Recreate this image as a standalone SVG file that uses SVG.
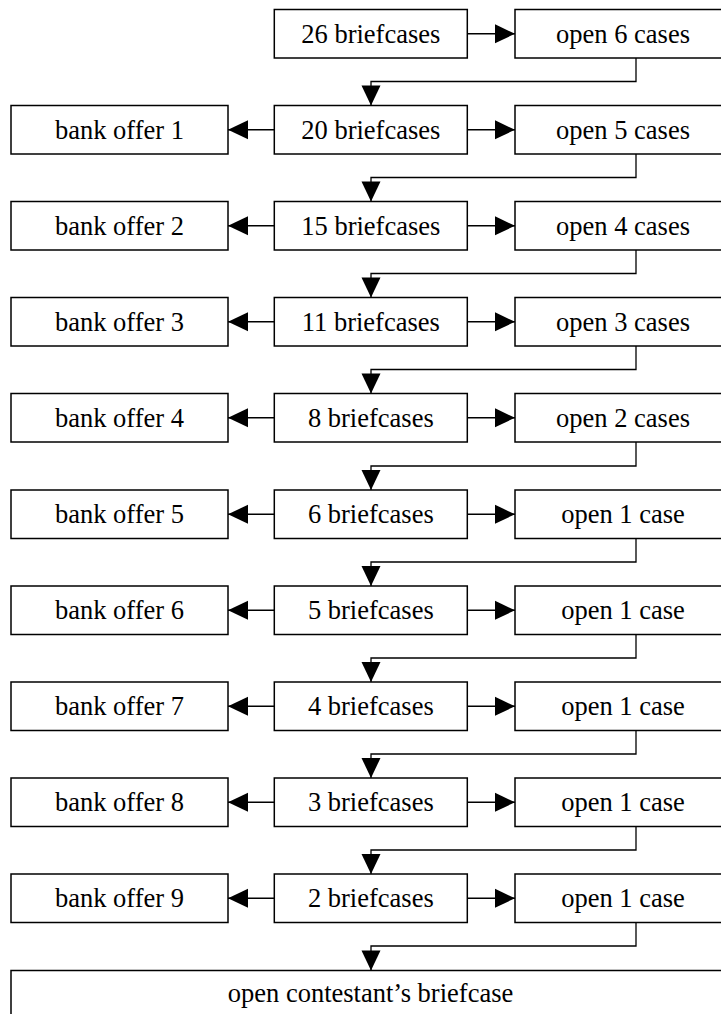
<svg xmlns="http://www.w3.org/2000/svg" width="721" height="1014" viewBox="0 0 721 1014">
<style>
.b{fill:#fff;stroke:#000;stroke-width:1.5}
.t{font-family:"Liberation Serif",Tinos,"Times New Roman",Times,"Noto Serif","DejaVu Serif",serif;font-size:26.5px;fill:#000;text-anchor:middle}
.c{fill:none;stroke:#000;stroke-width:1.3}
</style>
<defs>
<marker id="ah" markerUnits="userSpaceOnUse" markerWidth="20" markerHeight="19" refX="20" refY="9.5" orient="auto" overflow="visible">
<path d="M0,0 L20,9.5 L0,19 Z" fill="#000"/>
</marker>
</defs>
<rect width="721" height="1014" fill="#fff"/>
<g id="connectors">
<line class="c" x1="467.3" y1="33.75" x2="515" y2="33.75" marker-end="url(#ah)"/>
<polyline class="c" points="636,58 636,81.5 371,81.5 371,105.5" marker-end="url(#ah)"/>
<line class="c" x1="274.3" y1="129.75" x2="228" y2="129.75" marker-end="url(#ah)"/>
<line class="c" x1="467.3" y1="129.75" x2="515" y2="129.75" marker-end="url(#ah)"/>
<polyline class="c" points="636,154 636,177.5 371,177.5 371,201.5" marker-end="url(#ah)"/>
<line class="c" x1="274.3" y1="225.75" x2="228" y2="225.75" marker-end="url(#ah)"/>
<line class="c" x1="467.3" y1="225.75" x2="515" y2="225.75" marker-end="url(#ah)"/>
<polyline class="c" points="636,250 636,273.5 371,273.5 371,297.5" marker-end="url(#ah)"/>
<line class="c" x1="274.3" y1="321.75" x2="228" y2="321.75" marker-end="url(#ah)"/>
<line class="c" x1="467.3" y1="321.75" x2="515" y2="321.75" marker-end="url(#ah)"/>
<polyline class="c" points="636,346 636,369.5 371,369.5 371,393.5" marker-end="url(#ah)"/>
<line class="c" x1="274.3" y1="417.75" x2="228" y2="417.75" marker-end="url(#ah)"/>
<line class="c" x1="467.3" y1="417.75" x2="515" y2="417.75" marker-end="url(#ah)"/>
<polyline class="c" points="636,442 636,466 371,466 371,490" marker-end="url(#ah)"/>
<line class="c" x1="274.3" y1="514.25" x2="228" y2="514.25" marker-end="url(#ah)"/>
<line class="c" x1="467.3" y1="514.25" x2="515" y2="514.25" marker-end="url(#ah)"/>
<polyline class="c" points="636,538.5 636,562 371,562 371,586" marker-end="url(#ah)"/>
<line class="c" x1="274.3" y1="610.25" x2="228" y2="610.25" marker-end="url(#ah)"/>
<line class="c" x1="467.3" y1="610.25" x2="515" y2="610.25" marker-end="url(#ah)"/>
<polyline class="c" points="636,634.5 636,658 371,658 371,682" marker-end="url(#ah)"/>
<line class="c" x1="274.3" y1="706.25" x2="228" y2="706.25" marker-end="url(#ah)"/>
<line class="c" x1="467.3" y1="706.25" x2="515" y2="706.25" marker-end="url(#ah)"/>
<polyline class="c" points="636,730.5 636,754 371,754 371,778" marker-end="url(#ah)"/>
<line class="c" x1="274.3" y1="802.25" x2="228" y2="802.25" marker-end="url(#ah)"/>
<line class="c" x1="467.3" y1="802.25" x2="515" y2="802.25" marker-end="url(#ah)"/>
<polyline class="c" points="636,826.5 636,850 371,850 371,874" marker-end="url(#ah)"/>
<line class="c" x1="274.3" y1="898.25" x2="228" y2="898.25" marker-end="url(#ah)"/>
<line class="c" x1="467.3" y1="898.25" x2="515" y2="898.25" marker-end="url(#ah)"/>
<polyline class="c" points="636,922.5 636,946 371,946 371,970.5" marker-end="url(#ah)"/>
</g>
<g id="n26"><rect class="b" x="274.3" y="9.5" width="193" height="48.5"/><text class="t" x="370.8" y="42.5">26 briefcases</text></g>
<g id="o6"><rect class="b" x="515" y="9.5" width="216" height="48.5"/><text class="t" x="623" y="42.5">open 6 cases</text></g>

<g id="bo1"><rect class="b" x="11" y="105.5" width="217" height="48.5"/><text class="t" x="119.5" y="138.5">bank offer 1</text></g>
<g id="n20"><rect class="b" x="274.3" y="105.5" width="193" height="48.5"/><text class="t" x="370.8" y="138.5">20 briefcases</text></g>
<g id="o5"><rect class="b" x="515" y="105.5" width="216" height="48.5"/><text class="t" x="623" y="138.5">open 5 cases</text></g>

<g id="bo2"><rect class="b" x="11" y="201.5" width="217" height="48.5"/><text class="t" x="119.5" y="234.5">bank offer 2</text></g>
<g id="n15"><rect class="b" x="274.3" y="201.5" width="193" height="48.5"/><text class="t" x="370.8" y="234.5">15 briefcases</text></g>
<g id="o4"><rect class="b" x="515" y="201.5" width="216" height="48.5"/><text class="t" x="623" y="234.5">open 4 cases</text></g>

<g id="bo3"><rect class="b" x="11" y="297.5" width="217" height="48.5"/><text class="t" x="119.5" y="330.5">bank offer 3</text></g>
<g id="n11"><rect class="b" x="274.3" y="297.5" width="193" height="48.5"/><text class="t" x="370.8" y="330.5">11 briefcases</text></g>
<g id="o3"><rect class="b" x="515" y="297.5" width="216" height="48.5"/><text class="t" x="623" y="330.5">open 3 cases</text></g>

<g id="bo4"><rect class="b" x="11" y="393.5" width="217" height="48.5"/><text class="t" x="119.5" y="426.5">bank offer 4</text></g>
<g id="n8"><rect class="b" x="274.3" y="393.5" width="193" height="48.5"/><text class="t" x="370.8" y="426.5">8 briefcases</text></g>
<g id="o2"><rect class="b" x="515" y="393.5" width="216" height="48.5"/><text class="t" x="623" y="426.5">open 2 cases</text></g>

<g id="bo5"><rect class="b" x="11" y="490" width="217" height="48.5"/><text class="t" x="119.5" y="523">bank offer 5</text></g>
<g id="n6"><rect class="b" x="274.3" y="490" width="193" height="48.5"/><text class="t" x="370.8" y="523">6 briefcases</text></g>
<g id="o1a"><rect class="b" x="515" y="490" width="216" height="48.5"/><text class="t" x="623" y="523">open 1 case</text></g>

<g id="bo6"><rect class="b" x="11" y="586" width="217" height="48.5"/><text class="t" x="119.5" y="619">bank offer 6</text></g>
<g id="n5"><rect class="b" x="274.3" y="586" width="193" height="48.5"/><text class="t" x="370.8" y="619">5 briefcases</text></g>
<g id="o1b"><rect class="b" x="515" y="586" width="216" height="48.5"/><text class="t" x="623" y="619">open 1 case</text></g>

<g id="bo7"><rect class="b" x="11" y="682" width="217" height="48.5"/><text class="t" x="119.5" y="715">bank offer 7</text></g>
<g id="n4"><rect class="b" x="274.3" y="682" width="193" height="48.5"/><text class="t" x="370.8" y="715">4 briefcases</text></g>
<g id="o1c"><rect class="b" x="515" y="682" width="216" height="48.5"/><text class="t" x="623" y="715">open 1 case</text></g>

<g id="bo8"><rect class="b" x="11" y="778" width="217" height="48.5"/><text class="t" x="119.5" y="811">bank offer 8</text></g>
<g id="n3"><rect class="b" x="274.3" y="778" width="193" height="48.5"/><text class="t" x="370.8" y="811">3 briefcases</text></g>
<g id="o1d"><rect class="b" x="515" y="778" width="216" height="48.5"/><text class="t" x="623" y="811">open 1 case</text></g>

<g id="bo9"><rect class="b" x="11" y="874" width="217" height="48.5"/><text class="t" x="119.5" y="907">bank offer 9</text></g>
<g id="n2"><rect class="b" x="274.3" y="874" width="193" height="48.5"/><text class="t" x="370.8" y="907">2 briefcases</text></g>
<g id="o1e"><rect class="b" x="515" y="874" width="216" height="48.5"/><text class="t" x="623" y="907">open 1 case</text></g>

<g id="final"><rect class="b" x="11" y="970.5" width="720" height="60"/><text class="t" x="370.5" y="1002">open contestant’s briefcase</text></g>
</svg>
